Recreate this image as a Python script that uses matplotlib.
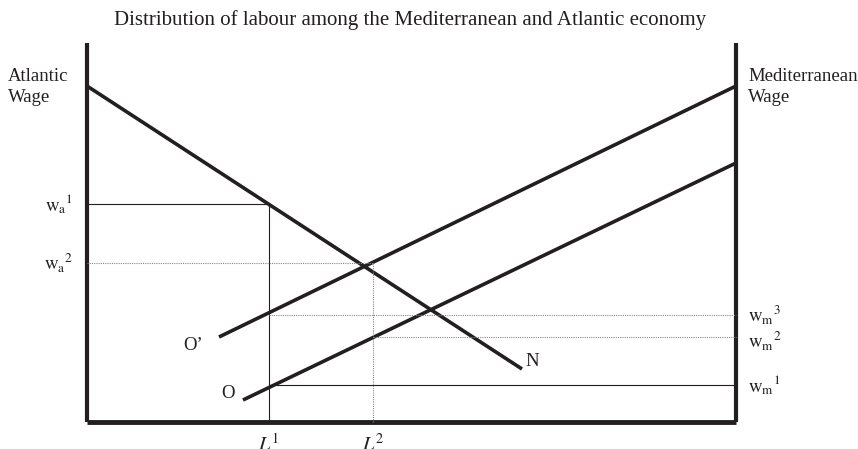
import matplotlib
matplotlib.use("Agg")
import matplotlib.pyplot as plt

# Schematic values (arbitrary units)
X_MAX = 649
Y_MAX = 379

# Atlantic labour demand line (ends at N)
demand_x = [0, 435]
demand_y = [336, 53]
# Mediterranean wage lines O' and O
o_prime_x = [132, 649]
o_prime_y = [85, 336]
o_x = [156, 649]
o_y = [22, 259]

# Labour allocations and wage levels
L1 = 182
L2 = 286
wa1 = 218
wa2 = 159
wm3 = 107
wm2 = 85
wm1 = 37

INK = "#231f20"
plt.rcParams["font.family"] = ["Liberation Serif", "DejaVu Serif"]
plt.rcParams["mathtext.fontset"] = "stix"

fig = plt.figure(figsize=(8.58, 4.49), dpi=100)
ax = fig.add_axes([87 / 858, 27 / 449, 649 / 858, 379 / 449])
ax.set_xlim(0, X_MAX)
ax.set_ylim(0, Y_MAX)
ax.axis("off")

kw = dict(clip_on=False, solid_capstyle="butt")

# frame: two wage axes and labour axis
ax.plot([0, 0], [0, Y_MAX], color=INK, lw=3.0, **kw)
ax.plot([X_MAX, X_MAX], [0, Y_MAX], color=INK, lw=3.0, **kw)
ax.plot([0, X_MAX], [0, 0], color=INK, lw=3.5, **kw)

# main curves
ax.plot(demand_x, demand_y, color=INK, lw=2.6, **kw)
ax.plot(o_prime_x, o_prime_y, color=INK, lw=2.6, **kw)
ax.plot(o_x, o_y, color=INK, lw=2.6, **kw)

# solid guide lines
ax.plot([0, L1], [wa1, wa1], color=INK, lw=0.8, **kw)
ax.plot([L1, L1], [0, wa1], color=INK, lw=0.8, **kw)
ax.plot([L1, X_MAX], [wm1, wm1], color=INK, lw=0.8, **kw)

# dotted guide lines
dot = dict(color="#888888", lw=0.8, ls=(0, (1, 1)), clip_on=False)
ax.plot([0, L2], [wa2, wa2], **dot)
ax.plot([L2, L2], [0, wa2], **dot)
ax.plot([L1, X_MAX], [wm3, wm3], **dot)
ax.plot([L2, X_MAX], [wm2, wm2], **dot)

fs = 13.5
ax.text(410 - 87, Y_MAX + 23, "Distribution of labour among the Mediterranean and Atlantic economy",
        ha="center", va="center", fontsize=15, color=INK)
ax.text(-79, 335, "Atlantic\nWage", ha="left", va="center", fontsize=fs, color=INK, linespacing=1.25)
ax.text(X_MAX + 12, 335, "Mediterranean\nWage", ha="left", va="center", fontsize=fs, color=INK,
        linespacing=1.25)

# wage level labels
ax.text(-14, wa1, r"$\mathrm{w}_{\mathrm{a}}{}^{1}$", ha="right", va="center", fontsize=fs, color=INK)
ax.text(-14, wa2, r"$\mathrm{w}_{\mathrm{a}}{}^{2}$", ha="right", va="center", fontsize=fs, color=INK)
ax.text(X_MAX + 12, wm3, r"$\mathrm{w}_{\mathrm{m}}{}^{3}$", ha="left", va="center", fontsize=fs, color=INK)
ax.text(X_MAX + 12, wm2 - 4, r"$\mathrm{w}_{\mathrm{m}}{}^{2}$", ha="left", va="center", fontsize=fs, color=INK)
ax.text(X_MAX + 12, wm1, r"$\mathrm{w}_{\mathrm{m}}{}^{1}$", ha="left", va="center", fontsize=fs, color=INK)

# labour labels
ax.text(L1, -12, r"$L^{1}$", ha="center", va="top", fontsize=fs + 1, color=INK)
ax.text(L2, -12, r"$L^{2}$", ha="center", va="top", fontsize=fs + 1, color=INK)

# curve labels
ax.text(o_prime_x[0] - 36, o_prime_y[0] - 8, "O\u2019", ha="left", va="center", fontsize=fs, color=INK)
ax.text(o_x[0] - 22, o_y[0] + 6, "O", ha="left", va="center", fontsize=fs, color=INK)
ax.text(demand_x[1] + 3, demand_y[1] + 8, "N", ha="left", va="center", fontsize=fs, color=INK)

fig.savefig("out.png", dpi=100)
